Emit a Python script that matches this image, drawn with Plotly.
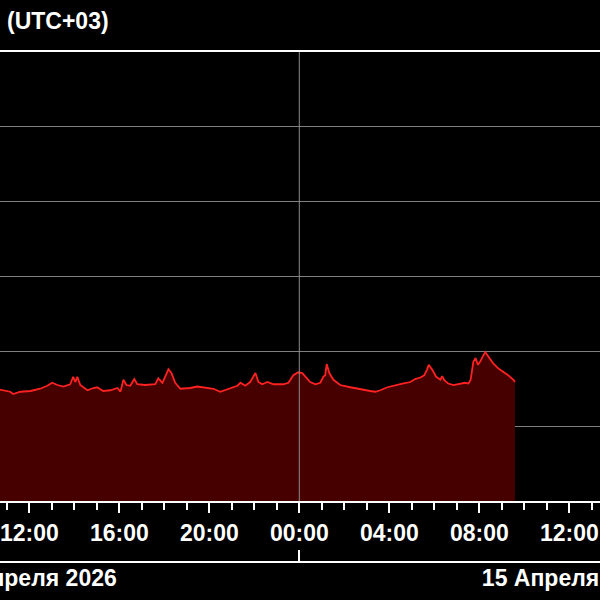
import plotly.graph_objects as go

# readings (UTC+03)
times = [
    '2026-04-14 10:30', '2026-04-14 10:43', '2026-04-14 11:09', '2026-04-14 11:17',
    '2026-04-14 11:36', '2026-04-14 12:03', '2026-04-14 12:29', '2026-04-14 12:48',
    '2026-04-14 13:01', '2026-04-14 13:15', '2026-04-14 13:31', '2026-04-14 13:49',
    '2026-04-14 13:57', '2026-04-14 14:03', '2026-04-14 14:08', '2026-04-14 14:16',
    '2026-04-14 14:35', '2026-04-14 14:51', '2026-04-14 15:01', '2026-04-14 15:17',
    '2026-04-14 15:36', '2026-04-14 15:55', '2026-04-14 16:03', '2026-04-14 16:11',
    '2026-04-14 16:19', '2026-04-14 16:29', '2026-04-14 16:40', '2026-04-14 16:48',
    '2026-04-14 17:09', '2026-04-14 17:36', '2026-04-14 17:44', '2026-04-14 17:55',
    '2026-04-14 18:03', '2026-04-14 18:11', '2026-04-14 18:19', '2026-04-14 18:29',
    '2026-04-14 18:43', '2026-04-14 19:09', '2026-04-14 19:28', '2026-04-14 19:55',
    '2026-04-14 20:11', '2026-04-14 20:29', '2026-04-14 20:56', '2026-04-14 21:15',
    '2026-04-14 21:23', '2026-04-14 21:36', '2026-04-14 21:49', '2026-04-14 22:03',
    '2026-04-14 22:11', '2026-04-14 22:21', '2026-04-14 22:35', '2026-04-14 22:51',
    '2026-04-14 23:17', '2026-04-14 23:31', '2026-04-14 23:44', '2026-04-14 23:57',
    '2026-04-15 00:08', '2026-04-15 00:21', '2026-04-15 00:29', '2026-04-15 00:43',
    '2026-04-15 00:56', '2026-04-15 01:04', '2026-04-15 01:09', '2026-04-15 01:13',
    '2026-04-15 01:20', '2026-04-15 01:31', '2026-04-15 01:49', '2026-04-15 02:16',
    '2026-04-15 02:43', '2026-04-15 02:56', '2026-04-15 03:09', '2026-04-15 03:23',
    '2026-04-15 03:36', '2026-04-15 03:55', '2026-04-15 04:16', '2026-04-15 04:35',
    '2026-04-15 04:56', '2026-04-15 05:09', '2026-04-15 05:23', '2026-04-15 05:33',
    '2026-04-15 05:41', '2026-04-15 05:45', '2026-04-15 05:55', '2026-04-15 06:05',
    '2026-04-15 06:16', '2026-04-15 06:21', '2026-04-15 06:27', '2026-04-15 06:37',
    '2026-04-15 06:51', '2026-04-15 07:09', '2026-04-15 07:22', '2026-04-15 07:31',
    '2026-04-15 07:37', '2026-04-15 07:44', '2026-04-15 07:50', '2026-04-15 07:56',
    '2026-04-15 08:02', '2026-04-15 08:09', '2026-04-15 08:16', '2026-04-15 08:24',
    '2026-04-15 08:37', '2026-04-15 08:51', '2026-04-15 09:04', '2026-04-15 09:17',
    '2026-04-15 09:31', '2026-04-15 09:35',
]
values = [
    1.50, 1.49, 1.46, 1.43, 1.46, 1.47, 1.50, 1.54,
    1.58, 1.55, 1.53, 1.56, 1.66, 1.59, 1.66, 1.55,
    1.48, 1.51, 1.52, 1.47, 1.48, 1.51, 1.46, 1.62,
    1.55, 1.54, 1.63, 1.56, 1.55, 1.56, 1.64, 1.58,
    1.68, 1.76, 1.71, 1.58, 1.50, 1.51, 1.53, 1.51,
    1.50, 1.46, 1.51, 1.54, 1.58, 1.54, 1.59, 1.71,
    1.59, 1.56, 1.59, 1.56, 1.56, 1.58, 1.68, 1.72,
    1.71, 1.64, 1.59, 1.56, 1.58, 1.66, 1.68, 1.83,
    1.71, 1.62, 1.55, 1.52, 1.49, 1.48, 1.47, 1.46,
    1.48, 1.52, 1.55, 1.57, 1.59, 1.63, 1.65, 1.68,
    1.76, 1.82, 1.75, 1.66, 1.62, 1.67, 1.61, 1.57,
    1.55, 1.57, 1.58, 1.57, 1.62, 1.86, 1.91, 1.82,
    1.86, 1.93, 1.99, 1.93, 1.84, 1.77, 1.73, 1.68,
    1.62, 1.59,
]

x_range = ['2026-04-14 10:41:52', '2026-04-15 13:21:50']
day_break = ['2026-04-15 00:00']
date_centers = ['2026-04-14 12:00', '2026-04-15 12:00']
date_labels = ['14 Апреля 2026', '15 Апреля 2026']

label_font = dict(family='Liberation Sans, Arial', size=23, color='white', weight='bold')

fig = go.Figure()
fig.add_trace(go.Scatter(
    x=times, y=values, mode='lines',
    line=dict(color='#ff2222', width=1.8),
    fill='tozeroy', fillcolor='#460000', hoverinfo='skip'))
# empty traces so the date axes get drawn
fig.add_trace(go.Scatter(x=day_break, y=[None], xaxis='x2', mode='lines'))
fig.add_trace(go.Scatter(x=date_centers, y=[None, None], xaxis='x3', mode='lines'))

fig.add_shape(type='line', xref='x', yref='y domain',
              x0=day_break[0], x1=day_break[0], y0=0, y1=1,
              line=dict(color='#8a8a8a', width=1))

fig.update_layout(
    width=600, height=600,
    margin=dict(l=0, r=0, t=0, b=0, autoexpand=False),
    paper_bgcolor='black', plot_bgcolor='black',
    showlegend=False,
    title=dict(text='(UTC+03)', x=7/600, xanchor='left', y=1 - 21/600, yanchor='middle',
               font=label_font),
    xaxis=dict(type='date', range=x_range, tickformat='%H:%M',
               dtick=4*3600*1000, tick0='2026-04-14 00:00',
               ticks='outside', ticklen=10, tickwidth=2, tickcolor='white',
               showline=True, linecolor='white', linewidth=2, mirror=True,
               showgrid=False, zeroline=False, tickfont=label_font,
               ticklabeloverflow='allow', automargin=False,
               minor=dict(dtick=3600*1000, ticks='outside', ticklen=7,
                          tickwidth=2, tickcolor='white', showgrid=False)),
    xaxis2=dict(type='date', overlaying='x', anchor='free', position=38/600,
                range=x_range, tickvals=day_break, ticks='inside', ticklen=11,
                tickwidth=2, tickcolor='white', showticklabels=False,
                showline=True, linecolor='white', linewidth=2,
                showgrid=False, zeroline=False, automargin=False),
    xaxis3=dict(type='date', overlaying='x', anchor='free', position=38/600,
                range=x_range, tickvals=date_centers, ticktext=date_labels,
                ticks='', showline=False, showgrid=False, zeroline=False,
                tickfont=label_font, ticklabeloverflow='allow', automargin=False),
    yaxis=dict(domain=[99/600, 548/600], range=[0, 6], dtick=1,
               showticklabels=False, ticks='', gridcolor='#808080', gridwidth=1,
               zeroline=False, showline=False, automargin=False),
)

fig.write_html("out.html", config={'displayModeBar': False},
               post_script="document.body.style.margin='0';")
